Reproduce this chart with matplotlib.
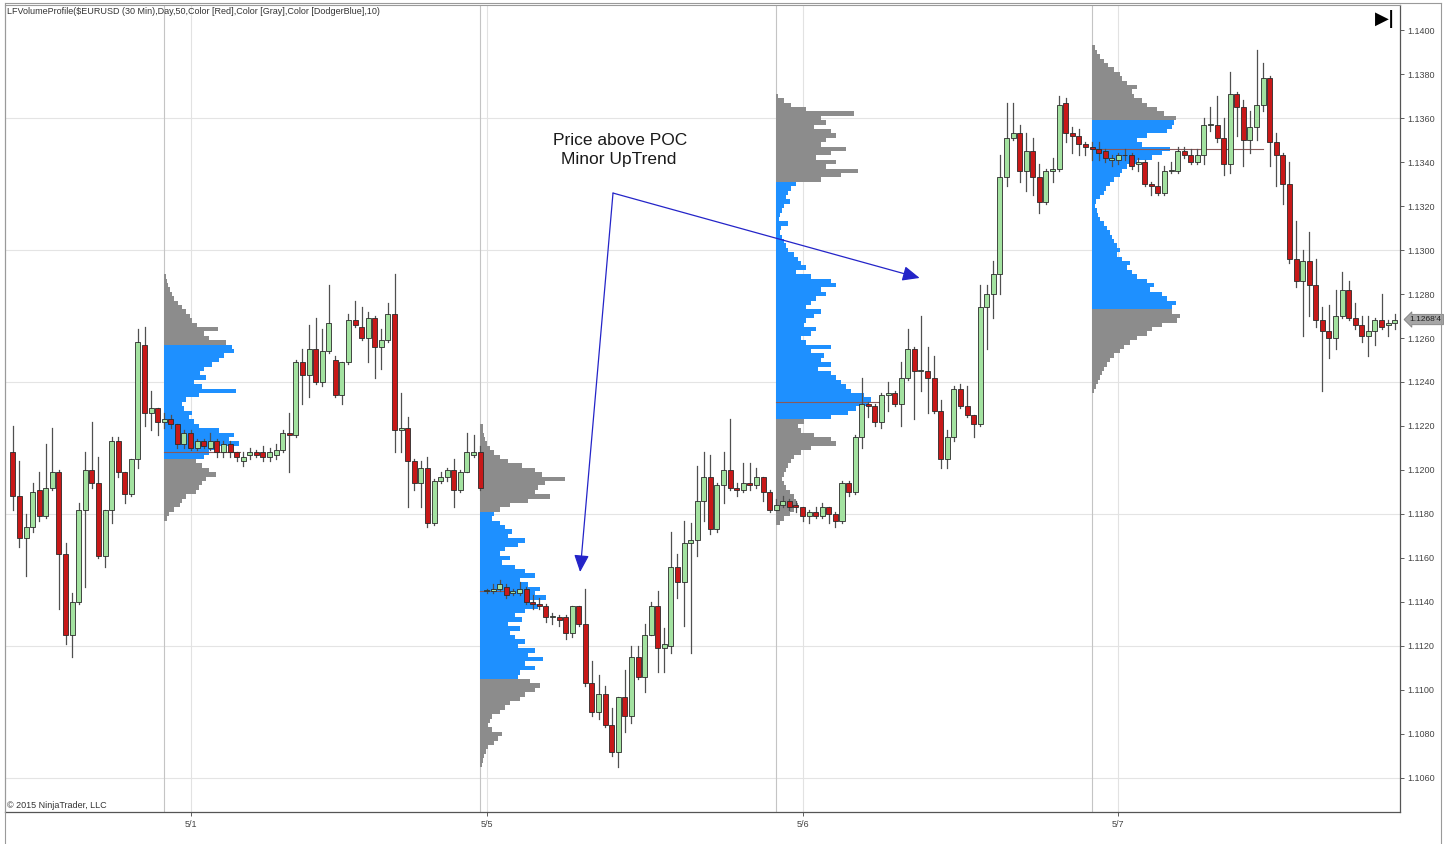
import numpy as np
import matplotlib
matplotlib.use("Agg")
import matplotlib.pyplot as plt
from matplotlib.patches import Rectangle
from matplotlib.lines import Line2D

plt.rcParams['font.family'] = ['Liberation Sans', 'DejaVu Sans']

# EURUSD 30 min bars
opens = [1.1208, 1.1188, 1.1169, 1.1174, 1.1191, 1.1179, 1.1192, 1.1199, 1.1162, 1.1125,
         1.1140, 1.1182, 1.1200, 1.1194, 1.1161, 1.1182, 1.1213, 1.1199, 1.1189, 1.1205,
         1.1257, 1.1226, 1.1228, 1.1222, 1.1223, 1.1221, 1.1212, 1.1217, 1.1210, 1.1213,
         1.1210, 1.1213, 1.1208, 1.1212, 1.1208, 1.1204, 1.1207, 1.1208, 1.1208, 1.1206,
         1.1207, 1.1209, 1.1217, 1.1216, 1.1249, 1.1243, 1.1255, 1.1240, 1.1254, 1.1250,
         1.1234, 1.1249, 1.1268, 1.1265, 1.1260, 1.1269, 1.1256, 1.1259, 1.1271, 1.1218,
         1.1219, 1.1204, 1.1194, 1.1201, 1.1176, 1.1195, 1.1197, 1.1200, 1.1191, 1.1199,
         1.1207, 1.1208, 1.1145, 1.1145, 1.1146, 1.1147, 1.1144, 1.1144, 1.1146, 1.1140,
         1.1139, 1.1138, 1.1133, 1.1133, 1.1133, 1.1126, 1.1138, 1.1130, 1.1103, 1.1090,
         1.1098, 1.1084, 1.1072, 1.1097, 1.1088, 1.1115, 1.1106, 1.1125, 1.1138, 1.1119,
         1.1120, 1.1156, 1.1149, 1.1167, 1.1168, 1.1186, 1.1197, 1.1173, 1.1193, 1.1200,
         1.1192, 1.1191, 1.1194, 1.1193, 1.1197, 1.1190, 1.1182, 1.1184, 1.1186, 1.1184,
         1.1183, 1.1179, 1.1181, 1.1179, 1.1183, 1.1180, 1.1177, 1.1194, 1.1190, 1.1215,
         1.1230, 1.1229, 1.1222, 1.1234, 1.1235, 1.1230, 1.1242, 1.1255, 1.1245, 1.1245,
         1.1242, 1.1227, 1.1205, 1.1215, 1.1237, 1.1229, 1.1225, 1.1221, 1.1274, 1.1280,
         1.1289, 1.1333, 1.1351, 1.1353, 1.1336, 1.1345, 1.1333, 1.1322, 1.1336, 1.1337,
         1.1367, 1.1353, 1.1352, 1.1348, 1.1347, 1.1346, 1.1345, 1.1341, 1.1341, 1.1343,
         1.1343, 1.1339, 1.1340, 1.1330, 1.1329, 1.1326, 1.1336, 1.1336, 1.1345, 1.1343,
         1.1340, 1.1343, 1.1357, 1.1357, 1.1351, 1.1339, 1.1371, 1.1365, 1.1350, 1.1356,
         1.1366, 1.1378, 1.1349, 1.1343, 1.1330, 1.1296, 1.1286, 1.1295, 1.1284, 1.1268,
         1.1263, 1.1260, 1.1270, 1.1282, 1.1269, 1.1266, 1.1261, 1.1263, 1.1268, 1.1266,
         1.1267]
highs = [1.1220, 1.1204, 1.1180, 1.1194, 1.1199, 1.1212, 1.1219, 1.1200, 1.1167, 1.1144,
         1.1185, 1.1208, 1.1222, 1.1206, 1.1182, 1.1215, 1.1215, 1.1199, 1.1205, 1.1264,
         1.1265, 1.1236, 1.1228, 1.1226, 1.1225, 1.1221, 1.1218, 1.1218, 1.1214, 1.1214,
         1.1217, 1.1214, 1.1213, 1.1213, 1.1208, 1.1208, 1.1210, 1.1209, 1.1211, 1.1210,
         1.1212, 1.1218, 1.1226, 1.1250, 1.1255, 1.1266, 1.1269, 1.1264, 1.1284, 1.1252,
         1.1249, 1.1271, 1.1277, 1.1274, 1.1272, 1.1270, 1.1264, 1.1276, 1.1289, 1.1235,
         1.1224, 1.1205, 1.1204, 1.1206, 1.1196, 1.1199, 1.1201, 1.1205, 1.1200, 1.1217,
         1.1216, 1.1211, 1.1146, 1.1148, 1.1150, 1.1148, 1.1146, 1.1149, 1.1147, 1.1143,
         1.1142, 1.1139, 1.1135, 1.1134, 1.1134, 1.1138, 1.1138, 1.1146, 1.1113, 1.1107,
         1.1102, 1.1092, 1.1097, 1.1109, 1.1120, 1.1120, 1.1130, 1.1140, 1.1145, 1.1128,
         1.1172, 1.1162, 1.1177, 1.1176, 1.1202, 1.1208, 1.1207, 1.1194, 1.1208, 1.1223,
         1.1194, 1.1203, 1.1203, 1.1201, 1.1197, 1.1191, 1.1187, 1.1188, 1.1187, 1.1186,
         1.1183, 1.1182, 1.1183, 1.1185, 1.1183, 1.1181, 1.1195, 1.1195, 1.1216, 1.1242,
         1.1231, 1.1230, 1.1235, 1.1240, 1.1236, 1.1249, 1.1264, 1.1256, 1.1270, 1.1256,
         1.1252, 1.1232, 1.1218, 1.1238, 1.1239, 1.1238, 1.1225, 1.1284, 1.1284, 1.1295,
         1.1343, 1.1367, 1.1367, 1.1357, 1.1353, 1.1351, 1.1339, 1.1337, 1.1342, 1.1370,
         1.1369, 1.1356, 1.1355, 1.1349, 1.1349, 1.1349, 1.1346, 1.1343, 1.1344, 1.1346,
         1.1344, 1.1342, 1.1341, 1.1331, 1.1340, 1.1338, 1.1340, 1.1347, 1.1347, 1.1346,
         1.1346, 1.1360, 1.1365, 1.1370, 1.1360, 1.1381, 1.1372, 1.1368, 1.1363, 1.1391,
         1.1385, 1.1379, 1.1353, 1.1344, 1.1340, 1.1313, 1.1300, 1.1308, 1.1296, 1.1274,
         1.1275, 1.1282, 1.1290, 1.1286, 1.1276, 1.1270, 1.1270, 1.1269, 1.1280, 1.1268,
         1.1271]
lows = [1.1182, 1.1165, 1.1152, 1.1172, 1.1177, 1.1178, 1.1191, 1.1137, 1.1121, 1.1115,
        1.1139, 1.1147, 1.1192, 1.1160, 1.1156, 1.1176, 1.1197, 1.1185, 1.1188, 1.1201,
        1.1220, 1.1218, 1.1216, 1.1219, 1.1219, 1.1210, 1.1210, 1.1209, 1.1209, 1.1210,
        1.1209, 1.1206, 1.1206, 1.1206, 1.1204, 1.1202, 1.1205, 1.1206, 1.1204, 1.1204,
        1.1205, 1.1208, 1.1199, 1.1215, 1.1230, 1.1233, 1.1239, 1.1238, 1.1253, 1.1233,
        1.1230, 1.1248, 1.1265, 1.1259, 1.1249, 1.1242, 1.1246, 1.1258, 1.1208, 1.1208,
        1.1183, 1.1191, 1.1183, 1.1174, 1.1175, 1.1194, 1.1195, 1.1183, 1.1190, 1.1199,
        1.1206, 1.1191, 1.1144, 1.1144, 1.1145, 1.1142, 1.1143, 1.1143, 1.1139, 1.1137,
        1.1137, 1.1131, 1.1130, 1.1129, 1.1123, 1.1124, 1.1129, 1.1102, 1.1088, 1.1087,
        1.1083, 1.1070, 1.1065, 1.1081, 1.1085, 1.1105, 1.1099, 1.1125, 1.1108, 1.1108,
        1.1117, 1.1142, 1.1129, 1.1117, 1.1161, 1.1177, 1.1171, 1.1172, 1.1185, 1.1191,
        1.1188, 1.1190, 1.1191, 1.1192, 1.1186, 1.1181, 1.1182, 1.1183, 1.1182, 1.1181,
        1.1177, 1.1176, 1.1178, 1.1178, 1.1176, 1.1174, 1.1176, 1.1188, 1.1189, 1.1210,
        1.1224, 1.1220, 1.1219, 1.1227, 1.1229, 1.1220, 1.1241, 1.1223, 1.1236, 1.1226,
        1.1226, 1.1201, 1.1201, 1.1213, 1.1228, 1.1224, 1.1215, 1.1220, 1.1255, 1.1269,
        1.1280, 1.1329, 1.1350, 1.1331, 1.1327, 1.1325, 1.1317, 1.1321, 1.1331, 1.1336,
        1.1349, 1.1344, 1.1343, 1.1343, 1.1341, 1.1341, 1.1340, 1.1338, 1.1339, 1.1341,
        1.1337, 1.1336, 1.1329, 1.1325, 1.1325, 1.1325, 1.1335, 1.1335, 1.1342, 1.1339,
        1.1339, 1.1339, 1.1354, 1.1349, 1.1334, 1.1335, 1.1352, 1.1338, 1.1344, 1.1350,
        1.1363, 1.1338, 1.1329, 1.1321, 1.1294, 1.1283, 1.1261, 1.1270, 1.1265, 1.1236,
        1.1251, 1.1255, 1.1269, 1.1268, 1.1264, 1.1258, 1.1252, 1.1257, 1.1264, 1.1261,
        1.1264]
closes = [1.1188, 1.1169, 1.1174, 1.1190, 1.1179, 1.1192, 1.1199, 1.1162, 1.1125, 1.1140,
          1.1182, 1.1200, 1.1194, 1.1161, 1.1182, 1.1213, 1.1199, 1.1189, 1.1205, 1.1258,
          1.1226, 1.1228, 1.1222, 1.1223, 1.1221, 1.1212, 1.1217, 1.1210, 1.1213, 1.1211,
          1.1213, 1.1208, 1.1212, 1.1208, 1.1206, 1.1206, 1.1208, 1.1207, 1.1206, 1.1208,
          1.1209, 1.1217, 1.1216, 1.1249, 1.1243, 1.1255, 1.1240, 1.1254, 1.1267, 1.1234,
          1.1249, 1.1268, 1.1266, 1.1260, 1.1269, 1.1256, 1.1259, 1.1271, 1.1218, 1.1219,
          1.1204, 1.1194, 1.1201, 1.1176, 1.1195, 1.1197, 1.1200, 1.1191, 1.1199, 1.1208,
          1.1208, 1.1192, 1.1145, 1.1146, 1.1148, 1.1143, 1.1145, 1.1146, 1.1140, 1.1139,
          1.1138, 1.1133, 1.1133, 1.1132, 1.1126, 1.1138, 1.1130, 1.1103, 1.1090, 1.1098,
          1.1084, 1.1072, 1.1097, 1.1088, 1.1115, 1.1106, 1.1125, 1.1138, 1.1119, 1.1121,
          1.1156, 1.1149, 1.1167, 1.1168, 1.1186, 1.1197, 1.1173, 1.1193, 1.1200, 1.1192,
          1.1191, 1.1194, 1.1193, 1.1197, 1.1190, 1.1182, 1.1184, 1.1186, 1.1183, 1.1183,
          1.1179, 1.1181, 1.1179, 1.1183, 1.1180, 1.1177, 1.1194, 1.1190, 1.1215, 1.1230,
          1.1229, 1.1222, 1.1234, 1.1235, 1.1230, 1.1242, 1.1255, 1.1245, 1.1245, 1.1242,
          1.1227, 1.1205, 1.1215, 1.1237, 1.1229, 1.1225, 1.1221, 1.1274, 1.1280, 1.1289,
          1.1333, 1.1351, 1.1353, 1.1336, 1.1345, 1.1333, 1.1322, 1.1336, 1.1337, 1.1366,
          1.1353, 1.1352, 1.1348, 1.1347, 1.1346, 1.1344, 1.1342, 1.1342, 1.1343, 1.1343,
          1.1338, 1.1340, 1.1330, 1.1329, 1.1326, 1.1336, 1.1336, 1.1345, 1.1343, 1.1340,
          1.1343, 1.1357, 1.1357, 1.1351, 1.1339, 1.1371, 1.1365, 1.1350, 1.1356, 1.1366,
          1.1378, 1.1349, 1.1343, 1.1330, 1.1296, 1.1286, 1.1295, 1.1284, 1.1268, 1.1263,
          1.1260, 1.1270, 1.1282, 1.1269, 1.1266, 1.1261, 1.1263, 1.1268, 1.1265, 1.1267,
          1.1268]

date_labels = ['5/1', '5/5', '5/6', '5/7']
date_bars = [27, 72, 120, 168]
session_bars = [23, 71, 116, 164]

# volume profile per session: rows of 0.0002 from the top price downwards
row_step = 0.0002
prof_tops = [1.1288, 1.1220, 1.1370, 1.1392]
prof1 = [2, 3, 4, 6, 8, 10, 14, 18, 22, 26, 28, 33, 54, 40, 45, 62, 68, 70, 60, 55,
         48, 40, 36, 42, 30, 38, 72, 35, 22, 18, 20, 28, 25, 30, 35, 55, 70, 65, 75, 55,
         45, 40, 32, 38, 45, 52, 42, 38, 35, 32, 22, 18, 16, 10, 5, 3]
prof2 = [3, 3, 4, 5, 7, 10, 14, 20, 28, 42, 55, 62, 85, 65, 58, 55, 70, 48, 30, 20,
         14, 12, 20, 25, 32, 28, 45, 38, 25, 20, 30, 22, 35, 45, 55, 40, 48, 60, 55, 66,
         50, 58, 45, 35, 42, 28, 40, 30, 35, 45, 38, 55, 48, 63, 45, 55, 40, 38, 50, 60,
         55, 45, 40, 30, 25, 20, 12, 10, 8, 12, 22, 18, 14, 8, 6, 4, 3, 2]
prof3 = [2, 8, 15, 30, 78, 45, 50, 38, 55, 60, 50, 45, 70, 55, 40, 60, 50, 82, 65, 45,
         20, 15, 12, 10, 14, 8, 6, 4, 3, 12, 5, 4, 6, 8, 10, 12, 18, 22, 25, 30,
         20, 35, 55, 60, 45, 50, 40, 35, 30, 45, 38, 30, 28, 40, 35, 25, 30, 55, 35, 48,
         45, 55, 42, 55, 60, 65, 70, 75, 88, 95, 92, 80, 72, 55, 28, 22, 25, 38, 55, 60,
         35, 25, 18, 15, 12, 10, 8, 6, 8, 10, 14, 18, 20, 22, 18, 14, 8, 4]
prof4 = [3, 5, 8, 12, 16, 22, 28, 30, 35, 45, 40, 42, 50, 55, 65, 72, 84, 82, 80, 75,
         55, 45, 50, 78, 70, 60, 45, 35, 30, 28, 22, 18, 14, 12, 8, 4, 3, 5, 6, 8,
         12, 15, 18, 20, 22, 25, 28, 25, 30, 38, 35, 40, 45, 55, 62, 58, 70, 75, 84, 80,
         80, 88, 85, 70, 60, 55, 45, 38, 32, 28, 22, 18, 15, 12, 10, 8, 6, 4, 2]
prof_vols = [prof1, prof2, prof3, prof4]
# value area rows (first, last) drawn in DodgerBlue
prof_va = [(16, 41), (20, 57), (20, 73), (17, 59)]
poc_prices = [1.1208, 1.1145, 1.1231, 1.1346]
poc_ends = [34.5, 74.8, 132.4, 190.0]

last_price = 1.12684

W, H = 1448, 844
fig = plt.figure(figsize=(W / 100, H / 100), dpi=100)
ax = fig.add_axes([5 / W, 1 - 812 / H, 1395 / W, 807 / H])
ax.set_xlim(-1.2, 210.8)
ax.set_ylim(1.10445, 1.14114)
bar_px = 6.58  # pixels per bar, used to scale the profile volume

# grid
for p in np.arange(1.1060, 1.1400, 0.0060):
    ax.axhline(p, color='#e4e4e4', lw=0.8, zorder=0)
for b in session_bars:
    ax.axvline(b, color='#c4c4c4', lw=0.8, zorder=0)
for b in date_bars:
    ax.axvline(b, color='#e2e2e2', lw=0.8, zorder=0)

# volume profiles
for top, vols, va, base in zip(prof_tops, prof_vols, prof_va, session_bars):
    vols = np.array(vols, dtype=float)
    rows = top - row_step * np.arange(len(vols))
    cols = ['#1e90ff' if va[0] <= k <= va[1] else '#8c8c8c' for k in range(len(vols))]
    ax.barh(rows, vols / bar_px, height=row_step, left=base, color=cols,
            edgecolor='none', zorder=1)

for p, b, e in zip(poc_prices, session_bars, poc_ends):
    ax.plot([b, e], [p, p], color='#8a5a5a', lw=0.8, zorder=2)

# candles
for i, (o, h, l, c) in enumerate(zip(opens, highs, lows, closes)):
    ax.plot([i, i], [l, h], color='#505050', lw=0.9, zorder=3)
    up = c >= o
    bot = min(o, c)
    ht = max(abs(c - o), 0.00004)
    ax.add_patch(Rectangle((i - 0.38, bot), 0.76, ht,
                           facecolor='#a3e2a0' if up else '#c81818',
                           edgecolor='#2a2a2a', lw=0.6, zorder=4))

# annotation
ax.text(92.3, 1.13498, 'Price above POC', ha='center', va='center', fontsize=12.5,
        color='#1a1a1a', zorder=6)
ax.text(92.0, 1.13412, 'Minor UpTrend', ha='center', va='center', fontsize=12.5,
        color='#1a1a1a', zorder=6)
start = (91.2, 1.13259)
for end in [(86.2, 1.11536), (137.8, 1.12873)]:
    ax.annotate('', xy=end, xytext=start,
                arrowprops=dict(arrowstyle='-|>,head_length=0.8,head_width=0.35',
                                color='#2424c8', lw=0.9, shrinkA=0, shrinkB=0,
                                mutation_scale=13), zorder=6)

# axes styling
for s in ['left', 'top']:
    ax.spines[s].set_color('#9a9a9a')
    ax.spines[s].set_linewidth(0.8)
for s in ['right', 'bottom']:
    ax.spines[s].set_color('#555555')
    ax.spines[s].set_linewidth(0.9)
ax.yaxis.tick_right()
yt = np.round(np.arange(1.1060, 1.14001, 0.0020), 4)
ax.set_yticks(yt)
ax.set_yticklabels(['%.4f' % v for v in yt])
ax.tick_params(axis='y', labelsize=6.5, colors='#444444', length=3, width=0.6, pad=2)
ax.set_xticks(date_bars)
ax.set_xticklabels(date_labels)
ax.tick_params(axis='x', labelsize=6.5, colors='#444444', length=3, width=0.6, pad=3)

# last price marker
ax.annotate("1.1268'4", xy=(1.0, last_price), xycoords=('axes fraction', 'data'),
            xytext=(7, 0), textcoords='offset points', ha='left', va='center',
            fontsize=6, color='#222222', annotation_clip=False,
            bbox=dict(boxstyle='larrow,pad=0.2', fc='#a6a6a6', ec='#808080', lw=0.6))

fig.text(7 / W, 1 - 12 / H,
         'LFVolumeProfile($EURUSD (30 Min),Day,50,Color [Red],Color [Gray],Color [DodgerBlue],10)',
         fontsize=6.5, color='#333333', va='center', ha='left')
fig.text(7 / W, 1 - 806 / H, '\u00a9 2015 NinjaTrader, LLC', fontsize=6.5,
         color='#333333', va='center', ha='left')
fig.text(1385 / W, 1 - 19 / H, '\u25b6|', fontsize=13, fontweight='bold',
         color='black', va='center', ha='center', family=['DejaVu Sans'])

# outer frame of the screenshot
fig.add_artist(Line2D([5 / W, 5 / W], [0, 1 - 3 / H], color='#9a9a9a', lw=0.8))
fig.add_artist(Line2D([1441 / W, 1441 / W], [0, 1 - 3 / H], color='#9a9a9a', lw=0.8))
fig.add_artist(Line2D([5 / W, 1441 / W], [1 - 3 / H, 1 - 3 / H], color='#9a9a9a', lw=0.8))

fig.savefig('out.png', dpi=100)
